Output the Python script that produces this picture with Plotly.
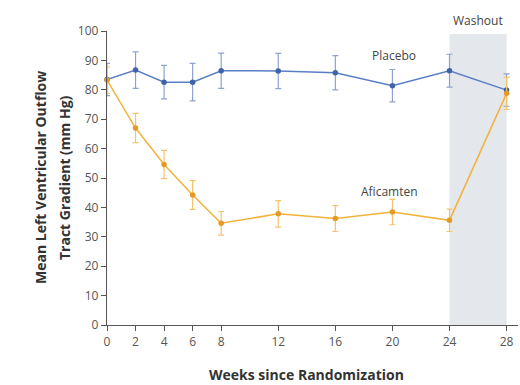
import plotly.graph_objects as go

# Weeks since randomization
weeks = [0, 2, 4, 6, 8, 12, 16, 20, 24, 28]

# Mean LVOT gradient (mm Hg) and error-bar half widths
placebo_mean = [83.5, 86.7, 82.6, 82.6, 86.5, 86.4, 85.8, 81.4, 86.5, 79.9]
placebo_err = [5.5, 6.2, 5.7, 6.4, 6.0, 6.0, 5.8, 5.5, 5.6, 5.5]
aficamten_mean = [83.3, 67.0, 54.6, 44.2, 34.6, 37.8, 36.2, 38.4, 35.6, 78.8]
aficamten_err = [4.5, 5.0, 4.8, 4.9, 4.0, 4.5, 4.4, 4.3, 3.8, 5.5]

x_ticks = [0, 2, 4, 6, 8, 12, 16, 20, 24, 28]
y_ticks = [0, 10, 20, 30, 40, 50, 60, 70, 80, 90, 100]

washout_start, washout_end = 24, 28

FONT = "Open Sans"
AXIS = "#555555"
BLUE_LINE = "#5a7ec4"
BLUE_MARK = "#3f63a8"
BLUE_ERR = "#8ea3cc"
ORANGE_LINE = "#f2b23c"
ORANGE_MARK = "#e39a26"
ORANGE_ERR = "#f3c46e"

fig = go.Figure()

fig.add_shape(type="rect", xref="x", yref="y",
              x0=washout_start, x1=washout_end, y0=0, y1=99,
              fillcolor="#e4e7ec", line_width=0, layer="below")

fig.add_trace(go.Scatter(
    x=weeks, y=placebo_mean, mode="lines+markers", name="Placebo",
    line=dict(color=BLUE_LINE, width=1.5),
    marker=dict(color=BLUE_MARK, size=5.5),
    error_y=dict(type="data", array=placebo_err, color=BLUE_ERR,
                 thickness=1.2, width=3),
    cliponaxis=False, showlegend=False))

fig.add_trace(go.Scatter(
    x=weeks, y=aficamten_mean, mode="lines+markers", name="Aficamten",
    line=dict(color=ORANGE_LINE, width=1.5),
    marker=dict(color=ORANGE_MARK, size=5.5),
    error_y=dict(type="data", array=aficamten_err, color=ORANGE_ERR,
                 thickness=1.2, width=3),
    cliponaxis=False, showlegend=False))

fig.add_annotation(x=20.1, y=91.5, xref="x", yref="y", text="Placebo",
                   showarrow=False, font=dict(family=FONT, size=12, color="#444"))
fig.add_annotation(x=19.8, y=45.5, xref="x", yref="y", text="Aficamten",
                   showarrow=False, font=dict(family=FONT, size=12, color="#444"))
fig.add_annotation(x=26.0, y=1.0, xref="x", yref="paper", yanchor="bottom",
                   text="Washout", showarrow=False,
                   font=dict(family=FONT, size=12, color="#444"))

# Two-line y-axis title and x-axis title, placed in pixel offsets from the plot
title_font = dict(family=FONT, size=14, color="#333")
fig.add_annotation(xref="paper", yref="paper", x=0, y=0.5, xshift=-67,
                   xanchor="center", yanchor="middle", textangle=-90,
                   text="<b>Mean Left Ventricular Outflow</b>",
                   showarrow=False, font=title_font)
fig.add_annotation(xref="paper", yref="paper", x=0, y=0.5, xshift=-43,
                   xanchor="center", yanchor="middle", textangle=-90,
                   text="<b>Tract Gradient (mm Hg)</b>",
                   showarrow=False, font=title_font)
fig.add_annotation(xref="paper", yref="paper", x=0.485, y=0, yshift=-49,
                   xanchor="center", yanchor="middle",
                   text="<b>Weeks since Randomization</b>",
                   showarrow=False, font=title_font)

fig.update_xaxes(
    range=[0, 28.8], tickvals=x_ticks, ticktext=[str(t) for t in x_ticks],
    showline=True, linecolor=AXIS, linewidth=1.3,
    ticks="outside", ticklen=5, tickcolor=AXIS, tickwidth=1.2,
    showgrid=False, zeroline=False,
    tickfont=dict(family=FONT, size=12, color="#555"))

fig.update_yaxes(
    range=[0, 100], tickvals=y_ticks,
    showline=True, linecolor=AXIS, linewidth=1.3,
    ticks="outside", ticklen=5, tickcolor=AXIS, tickwidth=1.2,
    showgrid=False, zeroline=False,
    tickfont=dict(family=FONT, size=12, color="#555"))

fig.update_layout(
    width=520, height=385,
    margin=dict(l=107, r=2, t=31, b=60),
    paper_bgcolor="white", plot_bgcolor="white",
    font=dict(family=FONT))

fig.write_html("out.html")
